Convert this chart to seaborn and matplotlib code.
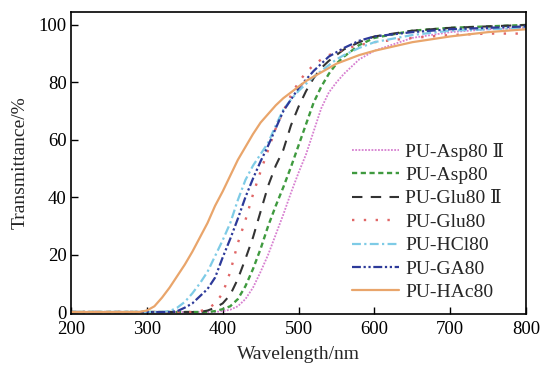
import numpy as np
import pandas as pd
import seaborn as sns
import matplotlib.pyplot as plt

wavelength = [200, 280, 290, 300, 310, 320, 330, 340, 350, 360, 370, 380, 390,
              400, 410, 420, 430, 440, 450, 460, 470, 480, 490, 500, 510, 520,
              530, 540, 550, 560, 580, 600, 650, 700, 750, 800]

pu_asp80_2 = [0, 0, 0, 0, 0, 0, 0, 0, 0, 0, 0, 0, 0,
              0.3, 0.8, 2, 4.5, 8.5, 14, 20, 27, 34, 41.5, 48.5, 55, 63,
              71, 76.5, 80, 83, 88, 91, 95.5, 97.5, 98.5, 99]
pu_asp80 = [0, 0, 0, 0, 0, 0, 0, 0, 0, 0, 0, 0, 0.3,
            1, 2, 4.5, 9, 15, 22, 30, 37, 43.5, 50.5, 58, 65.5, 73,
            78.5, 83, 86.5, 89, 93, 95.5, 98, 99, 99.5, 100]
pu_glu80_2 = [0, 0, 0, 0, 0, 0, 0, 0, 0, 0, 0, 0.5, 1.5,
              3, 6, 11.5, 18.5, 26, 35, 44, 51, 56.5, 65, 71.5, 77, 81.5,
              85, 87.5, 89.5, 91.5, 94, 96, 98, 99, 99.5, 100]
pu_glu80 = [0, 0, 0, 0, 0, 0, 0, 0, 0, 0, 0.3, 1, 3,
            6.5, 14, 24, 32, 41, 49, 56.5, 64, 70, 75.5, 80, 83.5, 86,
            88, 89.5, 90.5, 91.5, 93, 94, 95.5, 96.5, 97, 97]
pu_hcl80 = [0, 0, 0, 0, 0, 0, 0.3, 1.5, 3.5, 6.5, 10, 14, 19.5,
            25, 31, 39, 46, 51, 55, 59, 65, 70.5, 74, 77, 79.5, 82,
            84, 86, 88, 89.5, 92, 94, 96.5, 98, 98.5, 99]
pu_ga80 = [0, 0, 0, 0, 0, 0, 0, 0.3, 1.5, 3, 5.5, 8, 12,
           19, 25.5, 32.5, 40, 46.5, 52.5, 58, 64, 70, 74, 78, 81, 84,
           86.5, 89, 90.5, 92, 94.5, 96, 97.5, 98.5, 99, 99.5]
pu_hac80 = [0, 0, 0, 0.5, 2, 5, 8.5, 12.5, 16.5, 21, 26, 31, 37,
            42, 47.5, 53, 57.5, 62, 66, 69, 72, 74.5, 76.5, 78.5, 80.5, 82,
            83.5, 85, 86.5, 87.5, 89.5, 91, 94, 96, 97.5, 98.5]

labels = ["PU-Asp80 Ⅱ", "PU-Asp80", "PU-Glu80 Ⅱ", "PU-Glu80",
          "PU-HCl80", "PU-GA80", "PU-HAc80"]
series = [pu_asp80_2, pu_asp80, pu_glu80_2, pu_glu80, pu_hcl80, pu_ga80, pu_hac80]
colors = ["#d77fd0", "#3f9a3f", "#333333", "#e06666", "#7ecbe6", "#2d3a9a", "#e9a56b"]
styles = [(0, (1, 0.8)), (0, (2.2, 1.5)), (0, (5, 4)), (0, (1, 4)),
          (0, (4, 1.5, 1, 1.5)), (0, (4, 1.2, 1, 1.2, 1, 1.2)), "-"]
widths = [1.3, 1.7, 1.5, 1.7, 1.6, 1.6, 1.6]

sns.set_theme(style="ticks")
plt.rcParams["font.family"] = ["Liberation Serif", "DejaVu Serif", "Noto Sans CJK SC"]
plt.rcParams["font.size"] = 14

fig = plt.figure(figsize=(5.44, 3.65), dpi=100)
ax = fig.add_axes([0.1305, 0.1397, 0.8365, 0.8273])

for vals, lab, c, ls, lw in zip(series, labels, colors, styles, widths):
    df = pd.DataFrame({"wl": wavelength, "T": vals})
    sns.lineplot(data=df, x="wl", y="T", ax=ax, color=c, linestyle=ls,
                 linewidth=lw, label=lab)

ax.set_xlim(200, 800)
ax.set_ylim(-0.7, 104.5)
ax.set_xticks(np.arange(200, 801, 100))
ax.set_yticks(np.arange(0, 101, 20))
ax.tick_params(direction="in", length=5, width=1, labelsize=13.5,
               colors="black", pad=3)
ax.tick_params(axis="x", pad=5)
for sp in ax.spines.values():
    sp.set_linewidth(1.2)
    sp.set_color("black")
ax.set_xlabel("Wavelength/nm", fontsize=14, labelpad=6)
ax.set_ylabel("Transmittance/%", fontsize=14, labelpad=7)

leg = ax.legend(loc="center", bbox_to_anchor=(0.785, 0.305), frameon=False,
                fontsize=14, handlelength=2.4, labelspacing=0.3,
                handletextpad=0.3, borderpad=0.2)

fig.savefig("out.png", dpi=100)
